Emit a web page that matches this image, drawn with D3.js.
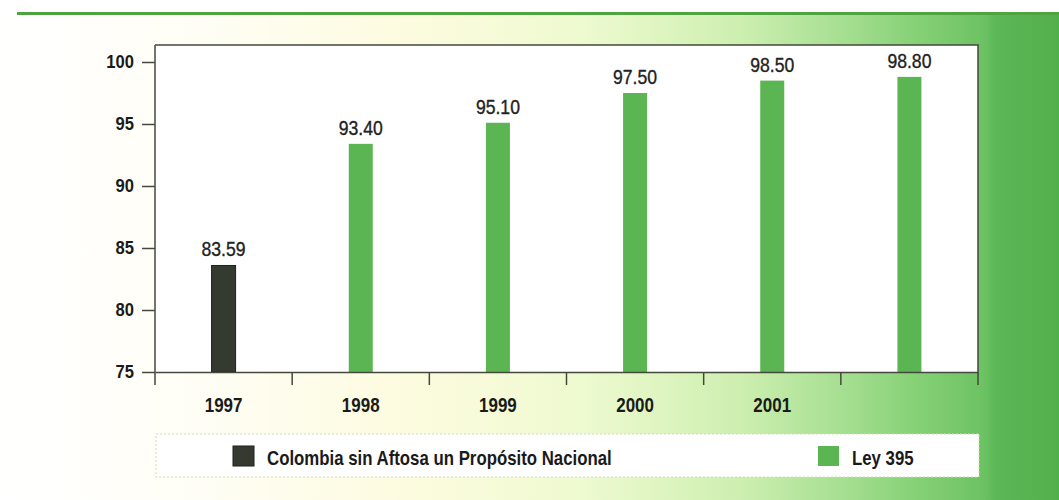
<!DOCTYPE html>
<html><head><meta charset="utf-8">
<script src="https://cdn.jsdelivr.net/npm/d3@7"></script>
<style>
html,body{margin:0;padding:0;background:#fff;}
svg{display:block;}
text{font-family:"Liberation Sans",Arial,sans-serif;}
</style></head>
<body>
<svg id="c" width="1059" height="500"></svg>
<script>
// ---- data ----
const categories = ["1997","1998","1999","2000","2001","2002"];
const tickLabels = ["1997","1998","1999","2000","2001",""];
const seriesNames = ["Colombia sin Aftosa un Propósito Nacional","Ley 395"];
const seriesColombia = [83.59, null, null, null, null, null];
const seriesLey395 = [null, 93.40, 95.10, 97.50, 98.50, 98.80];
const yTicks = [75, 80, 85, 90, 95, 100];

(function(){
const W = 1059, H = 500;
const svg = d3.select("#c");
const condense = (sel, f) => sel.each(function(){
  const w = this.getComputedTextLength();
  if (w > 0) d3.select(this).attr("textLength", w * f).attr("lengthAdjust","spacingAndGlyphs");
});
const defs = svg.append("defs");
const g1 = defs.append("linearGradient").attr("id","bg").attr("x1",0).attr("x2",1).attr("y1",0).attr("y2",0);
[[0,"#ffffff"],[0.18,"#fffef6"],[0.38,"#fdfbdf"],[0.55,"#eefad0"],[0.7,"#cdefb0"],[0.8,"#a4de90"],[0.86,"#88d278"],[0.93,"#6cc262"],[0.94,"#5cb756"],[1,"#52b04c"]]
  .forEach(([o,c])=>g1.append("stop").attr("offset",o).attr("stop-color",c));

svg.append("rect").attr("width",W).attr("height",H).attr("fill","#fff");
svg.append("rect").attr("x",0).attr("y",13).attr("width",W).attr("height",H-13).attr("fill","url(#bg)");
svg.append("line").attr("x1",17).attr("x2",W).attr("y1",13.5).attr("y2",13.5).attr("stroke","#4fa340").attr("stroke-width",3);

const pL = 155, pR = 978, pT = 45, base = 372;
const x = d3.scaleBand().domain(categories).range([pL, pR]).padding(0);
const y = d3.scaleLinear().domain([75, 75 + (base - pT) / 12.4]).range([base, pT]);

svg.append("rect").attr("x",pL).attr("y",pT).attr("width",pR-pL).attr("height",base-pT).attr("fill","#fff");

const barW = 24;
const color = ["#353a30", "#5bb553"];
const all = [seriesColombia, seriesLey395];
all.forEach((s, si) => {
  const d = categories.map((c,i)=>({c, v:s[i]})).filter(e=>e.v!=null);
  svg.append("g").selectAll("rect").data(d).join("rect")
    .attr("x", e => x(e.c) + x.bandwidth()/2 - barW/2)
    .attr("y", e => y(e.v))
    .attr("width", barW)
    .attr("height", e => base - y(e.v))
    .attr("fill", color[si])
    .attr("stroke", si===0 ? "#1e201a" : "none").attr("stroke-width",1);
  const t = svg.append("g").selectAll("text").data(d).join("text")
    .attr("x", e => x(e.c) + x.bandwidth()/2)
    .attr("y", e => y(e.v) - 9)
    .attr("text-anchor","middle")
    .attr("font-size", 20)
    .attr("fill","#222").attr("stroke","#222").attr("stroke-width",0.35)
    .text(e => e.v.toFixed(2));
  condense(t, 0.88);
});

const frameCol = "#45483c";
svg.append("path").attr("d",`M${pL},${pT}H${pR}V${base+13}`).attr("fill","none").attr("stroke",frameCol).attr("stroke-width",1.5);

const ya = svg.append("g").attr("transform",`translate(${pL},0)`)
  .call(d3.axisLeft(y).tickValues(yTicks).tickSize(13).tickPadding(8).tickFormat(d3.format("d")));
ya.select(".domain").remove();
ya.selectAll("line").attr("stroke",frameCol).attr("stroke-width",1.5);
ya.selectAll("text").attr("font-size",18).attr("font-weight","bold").attr("fill","#1a1a1a").attr("font-family","Liberation Sans");
condense(ya.selectAll("text"), 0.92);
svg.append("line").attr("x1",pL).attr("x2",pL).attr("y1",pT).attr("y2",base+13).attr("stroke",frameCol).attr("stroke-width",1.5);

const xa = svg.append("g").attr("transform",`translate(0,${base})`)
  .call(d3.axisBottom(x).tickSize(0).tickPadding(26).tickFormat((d,i)=>tickLabels[i]));
xa.select(".domain").attr("stroke",frameCol).attr("stroke-width",1.5);
xa.selectAll("text").attr("font-size",20).attr("font-weight","bold").attr("fill","#1a1a1a").attr("font-family","Liberation Sans");
condense(xa.selectAll("text"), 0.85);
svg.append("g").selectAll("line").data(categories.slice(0,-1)).join("line")
  .attr("x1", c => x(c) + x.step()).attr("x2", c => x(c) + x.step())
  .attr("y1", base).attr("y2", base + 13)
  .attr("stroke", frameCol).attr("stroke-width",1.5);

const lg = svg.append("g");
lg.append("rect").attr("x",156).attr("y",434).attr("width",823).attr("height",43)
  .attr("fill","#fff").attr("stroke","#cfdcae").attr("stroke-dasharray","2,2").attr("stroke-width",1);
const legPos = [[233, 267], [818, 852]];
seriesNames.forEach((n,i)=>{
  lg.append("rect").attr("x",legPos[i][0]).attr("y",446).attr("width",21).attr("height",20)
    .attr("fill",color[i]).attr("stroke", i===0 ? "#1e201a" : "none");
  const t = lg.append("text").attr("x",legPos[i][1]).attr("y",465).attr("font-size",21).attr("font-weight","bold")
    .attr("fill","#1a1a1a").text(n);
  condense(t, 0.8);
});
})();
</script>
</body></html>
